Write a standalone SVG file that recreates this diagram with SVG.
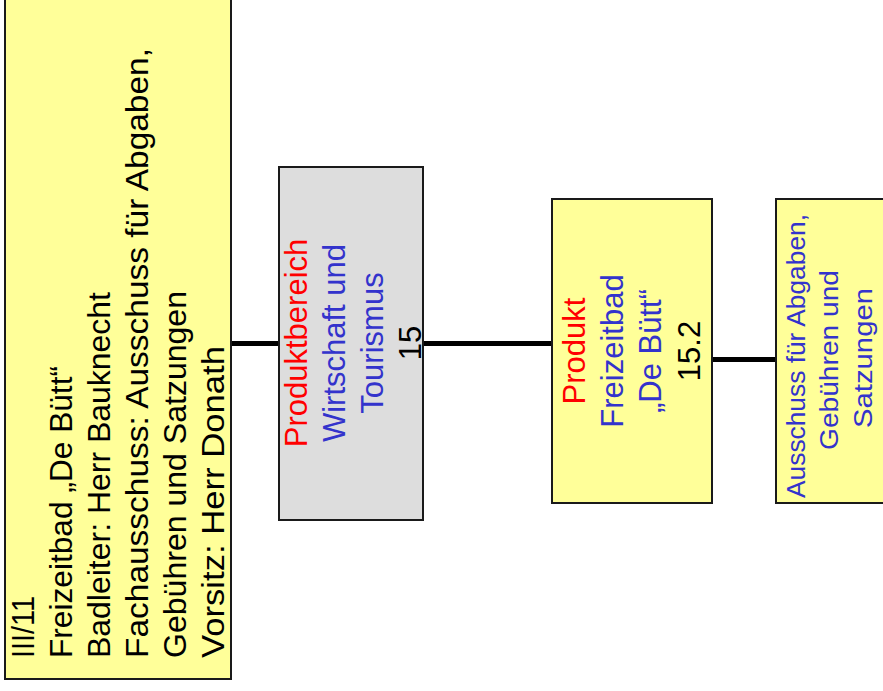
<svg xmlns="http://www.w3.org/2000/svg" width="883" height="691" viewBox="0 0 883 691">
<style>
.box{stroke:#1a1a1a;stroke-width:2}
.y{fill:#FFFF99}
.g{fill:#DDDDDD}
text{font-family:"Liberation Sans",Arial,sans-serif;font-size:31px}
.r{fill:#FF0000}
.b{fill:#3333CC}
.k{fill:#000000}
.s{font-size:26px}
.conn{stroke:#000;stroke-width:5;fill:none}
</style>
<g id="connectors">
<line class="conn" x1="232" y1="343.5" x2="279" y2="343.5"/>
<line class="conn" x1="423" y1="343.5" x2="552" y2="343.5"/>
<line class="conn" x1="712" y1="359.5" x2="776" y2="359.5"/>
</g>
<g id="node-freizeitbad">
<rect class="box y" x="5" y="-20" width="226" height="699"/>
<g class="k">
<text transform="translate(34,658) rotate(-90)" textLength="62" lengthAdjust="spacingAndGlyphs">III/11</text>
<text transform="translate(72,658) rotate(-90)" textLength="292" lengthAdjust="spacingAndGlyphs">Freizeitbad „De Bütt“</text>
<text transform="translate(110,658) rotate(-90)" textLength="366" lengthAdjust="spacingAndGlyphs">Badleiter: Herr Bauknecht</text>
<text transform="translate(148,658) rotate(-90)" textLength="610" lengthAdjust="spacingAndGlyphs">Fachausschuss: Ausschuss für Abgaben,</text>
<text transform="translate(186,658) rotate(-90)" textLength="367" lengthAdjust="spacingAndGlyphs">Gebühren und Satzungen</text>
<text transform="translate(224,658) rotate(-90)" textLength="312" lengthAdjust="spacingAndGlyphs">Vorsitz: Herr Donath</text>
</g>
</g>
<g id="node-produktbereich">
<rect class="box g" x="279" y="167" width="144" height="353"/>
<g text-anchor="middle">
<text class="r" transform="translate(307,343) rotate(-90)">Produktbereich</text>
<text class="b" transform="translate(345,343) rotate(-90)">Wirtschaft und</text>
<text class="b" transform="translate(383,343) rotate(-90)">Tourismus</text>
<text class="k" transform="translate(421,343) rotate(-90)">15</text>
</g>
</g>
<g id="node-produkt">
<rect class="box y" x="552" y="199" width="160" height="304"/>
<g text-anchor="middle">
<text class="r" transform="translate(585,351) rotate(-90)">Produkt</text>
<text class="b" transform="translate(623,351) rotate(-90)">Freizeitbad</text>
<text class="b" transform="translate(661,351) rotate(-90)">„De Bütt“</text>
<text class="k" transform="translate(700,351) rotate(-90)">15.2</text>
</g>
</g>
<g id="node-ausschuss">
<rect class="box y" x="776" y="199" width="130" height="304"/>
<g text-anchor="middle">
<text class="b s" transform="translate(805,356) rotate(-90)" textLength="284" lengthAdjust="spacingAndGlyphs">Ausschuss für Abgaben,</text>
<text class="b s" transform="translate(838,360) rotate(-90)" textLength="180" lengthAdjust="spacingAndGlyphs">Gebühren und</text>
<text class="b s" transform="translate(872,358) rotate(-90)" textLength="140" lengthAdjust="spacingAndGlyphs">Satzungen</text>
</g>
</g>
</svg>
